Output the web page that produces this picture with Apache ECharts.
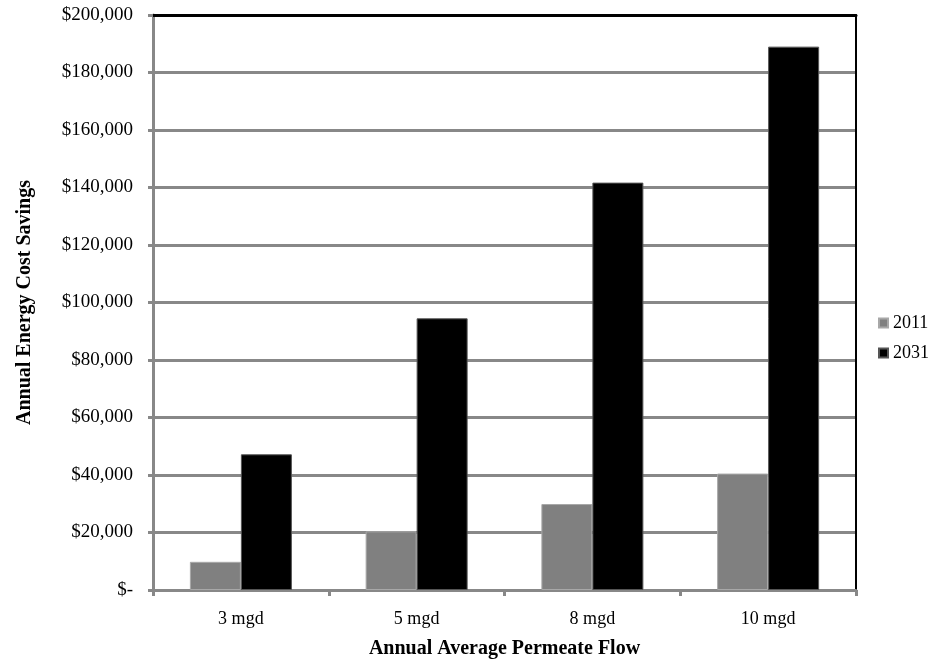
<!DOCTYPE html>
<html>
<head>
<meta charset="utf-8">
<script src="https://cdn.jsdelivr.net/npm/echarts@6/dist/echarts.min.js"></script>
<style>
  html, body { margin: 0; padding: 0; background: #fff; overflow: hidden; }
  #chart { width: 946px; height: 661px; }
</style>
</head>
<body>
<div id="chart"></div>
<script>
// Annual energy cost savings by permeate flow
const categories = ['3 mgd', '5 mgd', '8 mgd', '10 mgd'];
const savings2011 = [9800, 20400, 29900, 40500];
const savings2031 = [47200, 94500, 141700, 189000];
const yTicks = { min: 0, max: 200000, interval: 20000 };

const FONT = 'Liberation Serif';

function money(v) {
  if (v === 0) return '$-';
  return '$' + v.toLocaleString('en-US');
}

const el = document.getElementById('chart');
const chart = echarts.init(el, null, { renderer: 'canvas', width: 946, height: 661 });

chart.setOption({
  animation: false,
  backgroundColor: '#ffffff',
  textStyle: { fontFamily: FONT, color: '#000' },
  // fixed plot rectangle; the axis title may run past the bottom edge
  grid: { left: 153, right: 90, top: 15, bottom: 71, containLabel: false, outerBoundsMode: 'none' },
  legend: {
    orient: 'vertical',
    left: 873,
    top: 309,
    itemWidth: 9,
    itemHeight: 9,
    itemGap: 12,
    icon: 'rect',
    textStyle: { fontFamily: FONT, fontSize: 18, color: '#000', padding: [0, 0, 0, 0] },
    data: ['2011', '2031']
  },
  xAxis: [
    {
      type: 'category',
      data: categories,
      position: 'bottom',
      axisLine: { onZero: false, lineStyle: { color: '#888888', width: 3 } },
      axisTick: { show: true, length: 6, lineStyle: { color: '#888888', width: 3 } },
      axisLabel: { fontFamily: FONT, fontSize: 18, color: '#000', margin: 20 },
      name: 'Annual Average Permeate Flow',
      nameLocation: 'middle',
      nameGap: 49,
      nameTextStyle: { fontFamily: FONT, fontSize: 20, fontWeight: 'bold', color: '#000' }
    },
    {
      // black frame along the top of the plot
      type: 'category',
      data: categories,
      position: 'top',
      axisLine: { onZero: false, lineStyle: { color: '#000', width: 3 } },
      axisTick: { show: false },
      axisLabel: { show: false }
    }
  ],
  yAxis: [
    {
      type: 'value',
      min: yTicks.min,
      max: yTicks.max,
      interval: yTicks.interval,
      axisLine: { show: true, onZero: false, lineStyle: { color: '#888888', width: 3 } },
      axisTick: { show: true, length: 5, lineStyle: { color: '#888888', width: 3 } },
      splitLine: { show: true, lineStyle: { color: '#888888', width: 3 } },
      axisLabel: { fontFamily: FONT, fontSize: 19, color: '#000', margin: 20, formatter: money },
      name: 'Annual Energy Cost Savings',
      nameLocation: 'middle',
      nameGap: 118,
      nameRotate: 90,
      nameTextStyle: { fontFamily: FONT, fontSize: 20, fontWeight: 'bold', color: '#000' }
    },
    {
      // black frame along the right of the plot
      type: 'value',
      position: 'right',
      min: yTicks.min,
      max: yTicks.max,
      interval: yTicks.interval,
      axisLine: { show: true, onZero: false, lineStyle: { color: '#000', width: 2 } },
      axisTick: { show: false },
      axisLabel: { show: false },
      splitLine: { show: false }
    }
  ],
  series: [
    {
      name: '2011',
      type: 'bar',
      data: savings2011,
      barWidth: 51,
      barGap: '0%',
      itemStyle: { color: '#808080', borderColor: '#a8a8a8', borderWidth: 1 },
      z: 3
    },
    {
      name: '2031',
      type: 'bar',
      data: savings2031,
      barWidth: 51,
      barGap: '0%',
      itemStyle: { color: '#000000', borderColor: '#555555', borderWidth: 1 },
      z: 3
    }
  ]
});
</script>
</body>
</html>
